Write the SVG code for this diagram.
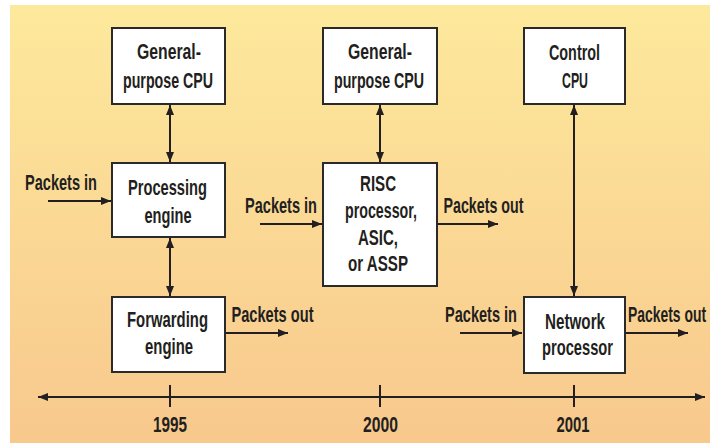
<svg xmlns="http://www.w3.org/2000/svg" width="710" height="443" viewBox="0 0 710 443">
<defs>
<linearGradient id="bg" x1="0" y1="0" x2="0" y2="1">
<stop offset="0" stop-color="#FDE99C"/>
<stop offset="1" stop-color="#F8C88D"/>
</linearGradient>
<marker id="ah" viewBox="0 0 10 8" refX="10" refY="4" markerWidth="10" markerHeight="8" markerUnits="userSpaceOnUse" orient="auto-start-reverse">
<path d="M0,0 L10,4 L0,8 z" fill="#231f20"/>
</marker>
</defs>
<style>
.box{fill:#ffffff;stroke:#2a2a2a;stroke-width:2}
.t{font-family:"Liberation Sans",Arial,sans-serif;font-weight:bold;font-size:22px;fill:#231f20;text-anchor:middle}
.ln{stroke:#231f20;stroke-width:2;fill:none}
</style>
<rect x="0" y="0" width="710" height="443" fill="#ffffff"/>
<rect x="10" y="5" width="700" height="438" fill="url(#bg)"/>

<g id="connectors">
<line class="ln" x1="170" y1="105" x2="170" y2="162" marker-start="url(#ah)" marker-end="url(#ah)"/>
<line class="ln" x1="170" y1="238" x2="170" y2="296" marker-start="url(#ah)" marker-end="url(#ah)"/>
<line class="ln" x1="380" y1="105" x2="380" y2="162" marker-start="url(#ah)" marker-end="url(#ah)"/>
<line class="ln" x1="574" y1="105" x2="574" y2="296" marker-start="url(#ah)" marker-end="url(#ah)"/>
<line class="ln" x1="48" y1="201" x2="111" y2="201" marker-end="url(#ah)"/>
<line class="ln" x1="260" y1="224" x2="322" y2="224" marker-end="url(#ah)"/>
<line class="ln" x1="437" y1="224" x2="498" y2="224" marker-end="url(#ah)"/>
<line class="ln" x1="225" y1="333" x2="288" y2="333" marker-end="url(#ah)"/>
<line class="ln" x1="460" y1="333" x2="522" y2="333" marker-end="url(#ah)"/>
<line class="ln" x1="625" y1="333" x2="688" y2="333" marker-end="url(#ah)"/>
<line class="ln" x1="38" y1="397" x2="705" y2="397" marker-start="url(#ah)" marker-end="url(#ah)"/>
<line class="ln" x1="170" y1="385" x2="170" y2="407"/>
<line class="ln" x1="380" y1="385" x2="380" y2="407"/>
<line class="ln" x1="574" y1="385" x2="574" y2="407"/>
</g>

<g id="labels">
<text class="t" transform="translate(61,190) scale(0.655,1)" textLength="109.9" lengthAdjust="spacingAndGlyphs">Packets in</text>
<text class="t" transform="translate(281,213) scale(0.655,1)" textLength="109.9" lengthAdjust="spacingAndGlyphs">Packets in</text>
<text class="t" transform="translate(483.5,213) scale(0.655,1)" textLength="122.1" lengthAdjust="spacingAndGlyphs">Packets out</text>
<text class="t" transform="translate(272.5,322) scale(0.655,1)" textLength="125.2" lengthAdjust="spacingAndGlyphs">Packets out</text>
<text class="t" transform="translate(481,322) scale(0.655,1)" textLength="109.9" lengthAdjust="spacingAndGlyphs">Packets in</text>
<text class="t" transform="translate(667,322) scale(0.655,1)" textLength="119.1" lengthAdjust="spacingAndGlyphs">Packets out</text>
<text class="t" transform="translate(170,432) scale(0.655,1)" textLength="51.9" lengthAdjust="spacingAndGlyphs">1995</text>
<text class="t" transform="translate(380.5,432) scale(0.655,1)" textLength="53.4" lengthAdjust="spacingAndGlyphs">2000</text>
<text class="t" transform="translate(573,432) scale(0.655,1)" textLength="50.4" lengthAdjust="spacingAndGlyphs">2001</text>
</g>

<g id="cpu1">
<rect class="box" x="112" y="28" width="113" height="76"/>
<text class="t" transform="translate(169,59) scale(0.655,1)" textLength="97.7" lengthAdjust="spacingAndGlyphs">General-</text>
<text class="t" transform="translate(168,88) scale(0.655,1)" textLength="137.4" lengthAdjust="spacingAndGlyphs">purpose CPU</text>
</g>

<g id="processing">
<rect class="box" x="112" y="163" width="113" height="74"/>
<text class="t" transform="translate(167.5,195) scale(0.655,1)" textLength="120.6" lengthAdjust="spacingAndGlyphs">Processing</text>
<text class="t" transform="translate(168,223) scale(0.655,1)" textLength="71.8" lengthAdjust="spacingAndGlyphs">engine</text>
</g>

<g id="forwarding">
<rect class="box" x="112" y="297" width="113" height="75"/>
<text class="t" transform="translate(167.5,327) scale(0.655,1)" textLength="123.7" lengthAdjust="spacingAndGlyphs">Forwarding</text>
<text class="t" transform="translate(169,354) scale(0.655,1)" textLength="73.3" lengthAdjust="spacingAndGlyphs">engine</text>
</g>

<g id="cpu2">
<rect class="box" x="323" y="28" width="114" height="76"/>
<text class="t" transform="translate(380,59) scale(0.655,1)" textLength="97.7" lengthAdjust="spacingAndGlyphs">General-</text>
<text class="t" transform="translate(379,88) scale(0.655,1)" textLength="137.4" lengthAdjust="spacingAndGlyphs">purpose CPU</text>
</g>

<g id="risc">
<rect class="box" x="323" y="163" width="114" height="123"/>
<text class="t" transform="translate(378,191) scale(0.655,1)" textLength="55" lengthAdjust="spacingAndGlyphs">RISC</text>
<text class="t" transform="translate(381,218) scale(0.655,1)" textLength="109.9" lengthAdjust="spacingAndGlyphs">processor,</text>
<text class="t" transform="translate(378,245) scale(0.655,1)" textLength="61.1" lengthAdjust="spacingAndGlyphs">ASIC,</text>
<text class="t" transform="translate(378,271) scale(0.655,1)" textLength="91.6" lengthAdjust="spacingAndGlyphs">or ASSP</text>
</g>

<g id="control">
<rect class="box" x="524" y="28" width="101" height="76"/>
<text class="t" transform="translate(574.5,60) scale(0.655,1)" textLength="77.9" lengthAdjust="spacingAndGlyphs">Control</text>
<text class="t" transform="translate(575,88) scale(0.655,1)" textLength="39.7" lengthAdjust="spacingAndGlyphs">CPU</text>
</g>

<g id="netproc">
<rect class="box" x="524" y="297" width="101" height="76"/>
<text class="t" transform="translate(575,329) scale(0.655,1)" textLength="91.6" lengthAdjust="spacingAndGlyphs">Network</text>
<text class="t" transform="translate(577.5,355) scale(0.655,1)" textLength="108.4" lengthAdjust="spacingAndGlyphs">processor</text>
</g>
</svg>
